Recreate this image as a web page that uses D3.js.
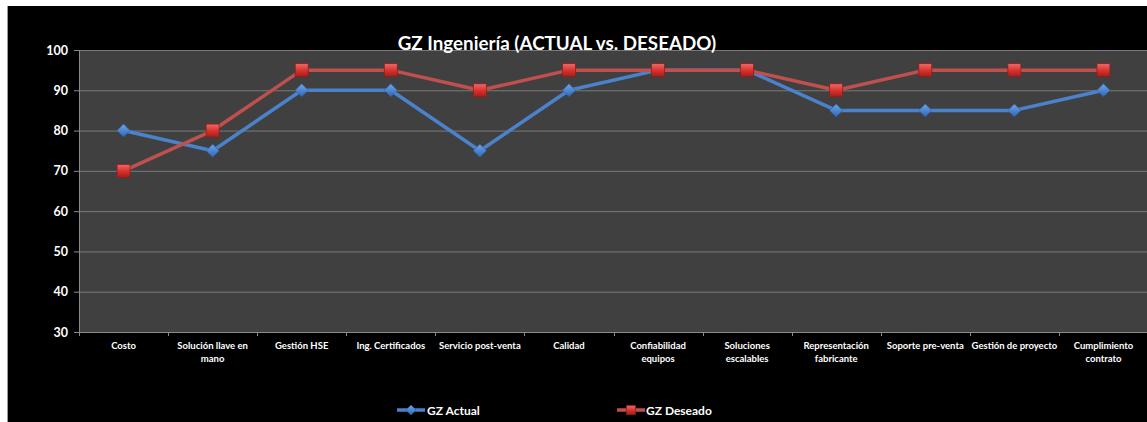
<!DOCTYPE html>
<html><head><meta charset="utf-8">
<script src="https://cdn.jsdelivr.net/npm/d3@7"></script>
<style>
html,body{margin:0;padding:0;background:#fff;}
svg{display:block;}
text{font-family:Lato,"Open Sans",sans-serif;font-weight:bold;fill:#fff;}
</style></head><body>
<svg id="c" width="1147" height="422"></svg>
<script>
const categories = ["Costo","Solución llave en mano","Gestión HSE","Ing. Certificados","Servicio post-venta","Calidad","Confiabilidad equipos","Soluciones escalables","Representación fabricante","Soporte pre-venta","Gestión de proyecto","Cumplimiento contrato"];
const labelLines = [["Costo"],["Solución llave en","mano"],["Gestión HSE"],["Ing. Certificados"],["Servicio post-venta"],["Calidad"],["Confiabilidad","equipos"],["Soluciones","escalables"],["Representación","fabricante"],["Soporte pre-venta"],["Gestión de proyecto"],["Cumplimiento","contrato"]];
const actual = [80,75,90,90,75,90,95,95,85,85,85,90];
const deseado = [70,80,95,95,90,95,95,95,90,95,95,95];
const yTicks = [30,40,50,60,70,80,90,100];
const seriesNames = ["GZ Actual","GZ Deseado"];

const svg = d3.select("#c");
const defs = svg.append("defs");
const gr = defs.append("linearGradient").attr("id","gRed").attr("x1",0).attr("y1",0).attr("x2",0).attr("y2",1);
gr.append("stop").attr("offset","0%").attr("stop-color","#f06a66");
gr.append("stop").attr("offset","55%").attr("stop-color","#d6302c");
gr.append("stop").attr("offset","100%").attr("stop-color","#a31f1c");
const gb = defs.append("linearGradient").attr("id","gBlue").attr("x1",0).attr("y1",0).attr("x2",0).attr("y2",1);
gb.append("stop").attr("offset","0%").attr("stop-color","#6ea6ea");
gb.append("stop").attr("offset","100%").attr("stop-color","#2f67b5");

// chart background
svg.append("rect").attr("x",7).attr("y",6).attr("width",1140).attr("height",416).attr("fill","#000");
svg.append("line").attr("x1",7.5).attr("x2",7.5).attr("y1",6).attr("y2",422).attr("stroke","#9a9a9a").attr("stroke-width",1);

const L=79, R=1148, T=50, B=332;
const x = d3.scaleBand().domain(categories).range([L,R]).padding(0);
const y = d3.scaleLinear().domain([30,100]).range([B,T]);

svg.append("rect").attr("x",L).attr("y",T).attr("width",R-L).attr("height",B-T).attr("fill","#404040");

// gridlines
svg.append("g").selectAll("line").data(yTicks.filter(d=>d>30)).join("line")
  .attr("x1",L).attr("x2",R).attr("y1",d=>y(d)+0.5).attr("y2",d=>y(d)+0.5)
  .attr("stroke","#7a7a7a").attr("stroke-width",1);

// y axis
const yAxis = svg.append("g").attr("transform",`translate(${L},0)`)
  .call(d3.axisLeft(y).tickValues(yTicks).tickSize(5).tickPadding(6));
yAxis.select(".domain").attr("stroke","#8a8a8a");
yAxis.selectAll(".tick line").attr("stroke","#8a8a8a");
yAxis.selectAll(".tick text").attr("fill","#fff").style("font-size","12.5px").style("font-family","Lato, sans-serif").style("font-weight","bold");

// x axis
const xAxis = svg.append("g").attr("transform",`translate(0,${B})`)
  .call(d3.axisBottom(x).tickSize(0).tickFormat(""));
xAxis.select(".domain").attr("stroke","#8a8a8a");
svg.append("g").selectAll("line").data(categories).join("line")
  .attr("x1",d=>Math.round(x(d))+0.5).attr("x2",d=>Math.round(x(d))+0.5)
  .attr("y1",B).attr("y2",B+4).attr("stroke","#8a8a8a");

const lbl = svg.append("g").selectAll("text").data(categories).join("text")
  .attr("x",d=>x(d)+x.bandwidth()/2).attr("y",B+17)
  .attr("text-anchor","middle").style("font-size","9.5px");
lbl.each(function(d,i){
  const t=d3.select(this);
  labelLines[i].forEach((s,j)=>t.append("tspan").attr("x",x(d)+x.bandwidth()/2).attr("dy",j?13:0).text(s));
});

const cx = (d,i)=>x(categories[i])+x.bandwidth()/2;
const line = d3.line().x((d,i)=>cx(d,i)).y(d=>y(d));

function square(g,px,py,s){
  g.append("rect").attr("x",px-s/2).attr("y",py-s/2).attr("width",s).attr("height",s)
   .attr("fill","url(#gRed)").attr("stroke","#8e1e1b").attr("stroke-width",0.8);
}
function diamond(g,px,py,s){
  g.append("path").attr("d",`M${px},${py-s}L${px+s},${py}L${px},${py+s}L${px-s},${py}Z`)
   .attr("fill","url(#gBlue)").attr("stroke","#2b5fa8").attr("stroke-width",0.6);
}

// Actual series first, Deseado on top
svg.append("path").datum(actual).attr("d",line).attr("fill","none").attr("stroke","#4a82cc").attr("stroke-width",3.5).attr("stroke-linejoin","round");
const mb = svg.append("g");
actual.forEach((v,i)=>diamond(mb,cx(v,i),y(v),6.5));
svg.append("path").datum(deseado).attr("d",line).attr("fill","none").attr("stroke","#c0504d").attr("stroke-width",3.5).attr("stroke-linejoin","round");
const mr = svg.append("g");
deseado.forEach((v,i)=>square(mr,cx(v,i),y(v),13));

// title
svg.append("text").attr("x",557).attr("y",50).attr("text-anchor","middle").style("font-size","18.8px").text("GZ Ingeniería (ACTUAL vs. DESEADO)");

// legend
const lg = svg.append("g");
lg.append("line").attr("x1",397).attr("x2",425).attr("y1",410).attr("y2",410).attr("stroke","#4a82cc").attr("stroke-width",3.5);
diamond(lg,411,410,5);
lg.append("text").attr("x",427).attr("y",414.5).style("font-size","12px").text(seriesNames[0]);
lg.append("line").attr("x1",617).attr("x2",645).attr("y1",410).attr("y2",410).attr("stroke","#c0504d").attr("stroke-width",3.5);
square(lg,631,410,9);
lg.append("text").attr("x",646).attr("y",414.5).style("font-size","12px").text(seriesNames[1]);
</script></body></html>
